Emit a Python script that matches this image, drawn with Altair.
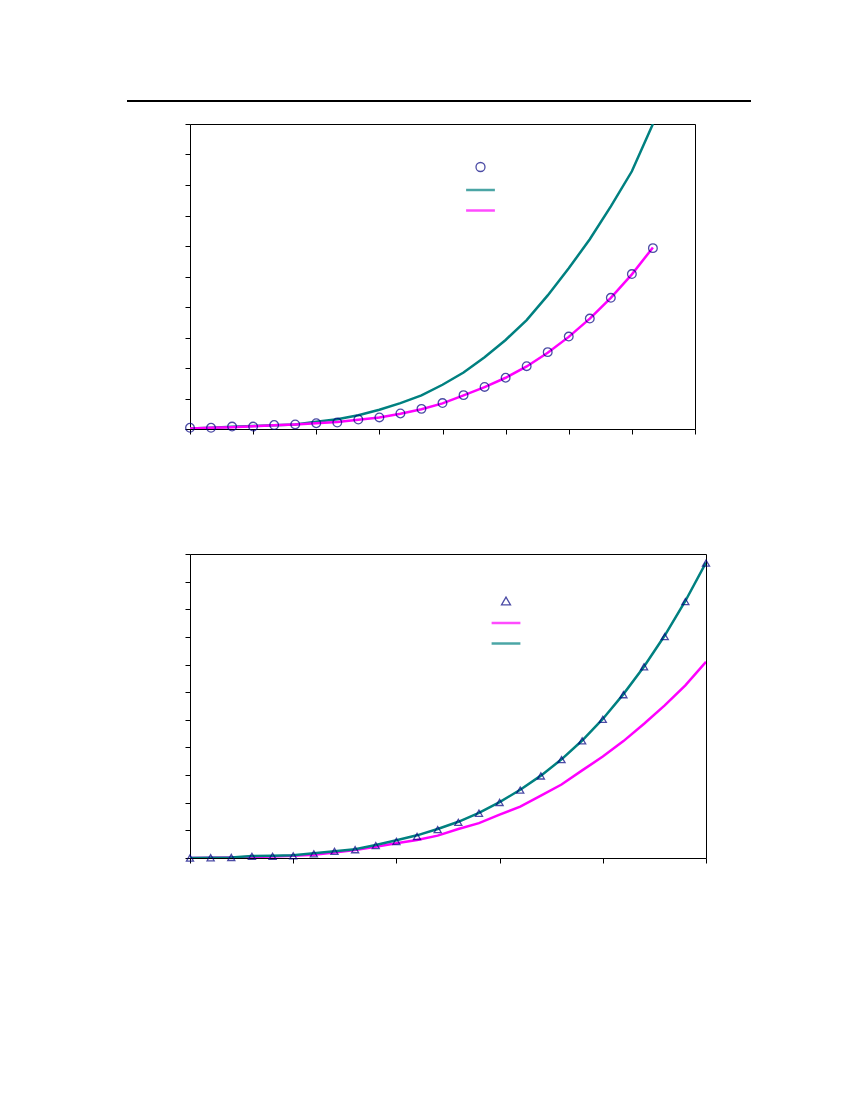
import altair as alt
import pandas as pd

# ---------------- data ----------------
top_x = list(range(23))
top_obs = [0.04, 0.04, 0.08, 0.08, 0.13, 0.15, 0.19, 0.21, 0.31, 0.38, 0.51, 0.66,
           0.85, 1.11, 1.38, 1.68, 2.06, 2.52, 3.03, 3.62, 4.30, 5.08, 5.93]
top_teal = [0.02, 0.04, 0.07, 0.10, 0.12, 0.15, 0.24, 0.32, 0.45, 0.63, 0.85, 1.10,
            1.45, 1.85, 2.35, 2.92, 3.57, 4.38, 5.27, 6.22, 7.30, 8.45, 10.0]
top_mag = [0.02, 0.04, 0.06, 0.09, 0.12, 0.15, 0.19, 0.23, 0.30, 0.38, 0.50, 0.65,
           0.84, 1.10, 1.37, 1.68, 2.05, 2.50, 3.02, 3.62, 4.30, 5.07, 5.95]

bot_x = list(range(26))
bot_obs = [0.00, 0.01, 0.02, 0.06, 0.06, 0.08, 0.15, 0.24, 0.30, 0.45, 0.60, 0.78, 1.03,
           1.29, 1.62, 2.01, 2.46, 2.97, 3.56, 4.24, 5.02, 5.91, 6.92, 8.01, 9.28, 10.67]
bot_mag = [0.00, 0.01, 0.02, 0.04, 0.05, 0.08, 0.12, 0.20, 0.29, 0.41, 0.53, 0.65, 0.81,
           1.05, 1.26, 1.57, 1.86, 2.26, 2.66, 3.17, 3.67, 4.23, 4.86, 5.52, 6.25, 7.10]
bot_teal = [0.00, 0.01, 0.02, 0.07, 0.08, 0.10, 0.17, 0.24, 0.32, 0.47, 0.64, 0.82, 1.05,
            1.31, 1.63, 2.02, 2.47, 2.98, 3.57, 4.25, 5.03, 5.93, 6.93, 8.05, 9.30, 10.69]

top_series = ["obs", "teal", "magenta"]
bot_series = ["obs", "magenta", "teal"]
top_ticks_x = [0, 3, 6, 9, 12, 15, 18, 21, 24]
top_ticks_y = list(range(11))
bot_ticks_x = [0, 5, 10, 15, 20, 25]
bot_ticks_y = list(range(12))

NAVY = "#000080"
TEAL = "#008080"
MAG = "#FF00FF"
LINEPATH = "M-3.2,0H3.2"
LW = 2.5
PW = 1.3


def long(x, ys, names):
    rows = []
    for name, y in zip(names, ys):
        for xi, yi in zip(x, y):
            rows.append({"x": xi, "y": yi, "s": name})
    return pd.DataFrame(rows)


def panel(x, obs, lines, line_names, series, colors, shapes,
          xdom, xticks, ydom, yticks, w, h, lx, ly, psize, extra=None):
    leg = alt.Legend(title=None, orient="none", legendX=lx, legendY=ly,
                     labelExpr="''", symbolSize=81, rowPadding=9.5, padding=0,
                     labelFontSize=1, labelLimit=1, symbolFillColor="transparent")
    xs = alt.Scale(domain=xdom, nice=False, zero=False)
    ys = alt.Scale(domain=ydom, nice=False, zero=False)
    xe = alt.X("x:Q", scale=xs,
               axis=alt.Axis(values=xticks, labels=False, title=None, grid=False,
                             tickSize=5, domainColor="black", tickColor="black"))
    ye = alt.Y("y:Q", scale=ys,
               axis=alt.Axis(values=yticks, labels=False, title=None, grid=False,
                             tickSize=5, domainColor="black", tickColor="black"))
    xn = alt.X("x:Q", scale=xs, axis=None)
    yn = alt.Y("y:Q", scale=ys, axis=None)
    col = alt.Color("s:N", scale=alt.Scale(domain=series, range=colors), legend=leg)
    shp = alt.Shape("s:N", scale=alt.Scale(domain=series, range=shapes), legend=leg)
    sw = alt.StrokeWidth("s:N", scale=alt.Scale(type="ordinal", domain=series,
                                                range=[PW, LW, LW]), legend=leg)

    dl = long(x, lines, line_names)
    do = long(x, [obs], ["obs"])
    line_layer = alt.Chart(dl).mark_line(clip=True, strokeWidth=LW).encode(
        x=xe, y=ye, color=col)
    pt_layer = alt.Chart(do).mark_point(filled=False, size=psize).encode(
        x=xn, y=yn, color=col, shape=shp, strokeWidth=sw)
    frame = alt.Chart(do).mark_point(opacity=0).encode(
        x=alt.X("x:Q", scale=xs, axis=alt.Axis(orient="top", labels=False, ticks=False,
                                               title=None, grid=False, domainColor="black")),
        y=alt.Y("y:Q", scale=ys, axis=alt.Axis(orient="right", labels=False, ticks=False,
                                               title=None, grid=False, domainColor="black")))
    layers = ([extra] if extra is not None else []) + [line_layer, pt_layer, frame]
    return alt.layer(*layers).resolve_axis(x="independent", y="independent").properties(
        width=w, height=h)


header = alt.Chart(pd.DataFrame({"a": [0]})).mark_rule(color="black", strokeWidth=2).encode(
    x=alt.value(-63), x2=alt.value(561), y=alt.value(-23))

top = panel(top_x, top_obs, [top_teal, top_mag], ["teal", "magenta"], top_series,
            [NAVY, TEAL, MAG], ["circle", LINEPATH, LINEPATH],
            [0, 24], top_ticks_x, [0, 10], top_ticks_y, 505, 305, 284.5, 37.5, 75,
            extra=header)

bottom = panel(bot_x, bot_obs, [bot_mag, bot_teal], ["magenta", "teal"], bot_series,
               [NAVY, MAG, TEAL], ["triangle-up", LINEPATH, LINEPATH],
               [0, 25], bot_ticks_x, [0, 11], bot_ticks_y, 516, 304, 310, 41.5, 50)

chart = alt.vconcat(top, bottom, spacing=117).resolve_scale(
    color="independent", shape="independent", strokeWidth="independent"
).resolve_legend(
    color="independent", shape="independent", strokeWidth="independent"
).properties(
    padding={"left": 117, "top": 91, "right": 5, "bottom": 5}
).configure_view(stroke="transparent").configure(background="white")

chart.save("out.html", embed_options={"renderer": "svg", "actions": False})
